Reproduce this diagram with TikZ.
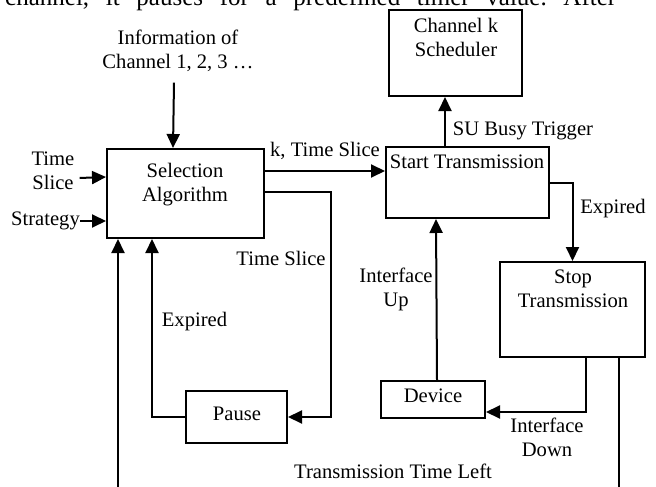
\documentclass[tikz,border=0pt]{standalone}
\usepackage{fontspec}
\setmainfont{Liberation Serif}
\usetikzlibrary{calc,arrows.meta}
\tikzset{
	box/.style={draw, line width=2pt, inner sep=0pt},
	txt/.style={align=center, inner sep=0pt, font=\fontsize{20.6}{24}\selectfont},
	arr/.style={line width=2pt, -{Triangle[length=14pt,width=13pt]}}
}

\begin{document}
\begin{tikzpicture}[x=1pt, y=-1pt]
			%%%%% START %%%%%
			
			\useasboundingbox (0,0) rectangle (656,487);
			\clip (0,0) rectangle (656,487);
			
			\node[anchor=base west, inner sep=0pt, font=\fontsize{25}{30}\selectfont] (body) at (5,6) {\hbox to 611pt{channel,\hfill it\hfill pauses\hfill for\hfill a\hfill predefined\hfill timer\hfill value.\hfill After}};
			
			% boxes
			\node[box, minimum width=157pt, minimum height=89pt] (sel) at (185.5,193.5) {};
			\node[box, minimum width=133pt, minimum height=86pt] (sched) at (455.5,53) {};
			\node[box, minimum width=163pt, minimum height=71pt] (start) at (467.5,182.5) {};
			\node[box, minimum width=145pt, minimum height=95pt] (stop) at (572.5,309.5) {};
			\node[box, minimum width=101pt, minimum height=52pt] (pause) at (236.5,417) {};
			\node[box, minimum width=104pt, minimum height=37pt] (device) at (433,399.5) {};
			
			\node[txt] (seltext) at (185,185) {Selection\\Algorithm};
			\node[txt] (schedtext) at (456,37) {Channel k\\Scheduler};
			\node[txt] (starttext) at (467,162) {Start Transmission};
			\node[txt] (stoptext) at (573,288.5) {Stop\\Transmission};
			\node[txt] (pausetext) at (237,414) {Pause};
			\node[txt] (devicetext) at (433,396) {Device};
			
			% labels
			\node[txt] (info) at (178,50.5) {Information of\\Channel 1, 2, 3 …};
			\node[txt] (tsl) at (53,170.5) {Time\\Slice};
			\node[txt, anchor=east] (strat) at (80,221) {Strategy};
			\node[txt] (ktsl) at (325,151) {k, Time Slice};
			\node[txt] (su) at (523,131) {SU Busy Trigger};
			\node[txt] (exp1) at (613,209) {Expired};
			\node[txt] (tsl2) at (281,258) {Time Slice};
			\node[txt] (exp2) at (194.5,322) {Expired};
			\node[txt] (iup) at (396,289.5) {Interface\\Up};
			\node[txt] (idown) at (547,437.5) {Interface\\Down};
			\node[txt] (ttl) at (393,471) {Transmission Time Left};
			
			% connectors
			\draw[arr] ($(info.south)+(-4,11)$) -- ($(sel.north west)+(67,0)$);
			\draw[arr] ($(tsl.east)+(5,7.5)$) -- ($(sel.north west)+(0,29)$);
			\draw[arr] (strat.east) -- (strat.east -| sel.west);
			\draw[arr] ($(sel.north east)+(0,23)$) -- ($(start.north west)+(0,25)$);
			\draw[arr] ($(sel.north east)+(0,44)$) -| ($(pause.east)+(43,0)$) -- (pause.east);
			\draw[arr] (pause.west) -| ($(sel.south west)+(46,0)$);
			\draw[arr] ($(stop.south east)+(-27,0)$) -- ++(0,150) -| ($(sel.south west)+(12,0)$);
			\draw[arr] ($(start.north west)+(60,0)$) -- ($(sched.south west)+(57,0)$);
			\draw[arr] (start.east) -| (stop.north);
			\draw[arr] ($(device.north)+(4,0)$) -- ($(start.south west)+(51,0)$);
			\draw[arr] ($(stop.south)+(13.5,0)$) |- ($(device.south east)+(0,-7)$);
			
			%%%%% END %%%%%
\end{tikzpicture}
\end{document}
